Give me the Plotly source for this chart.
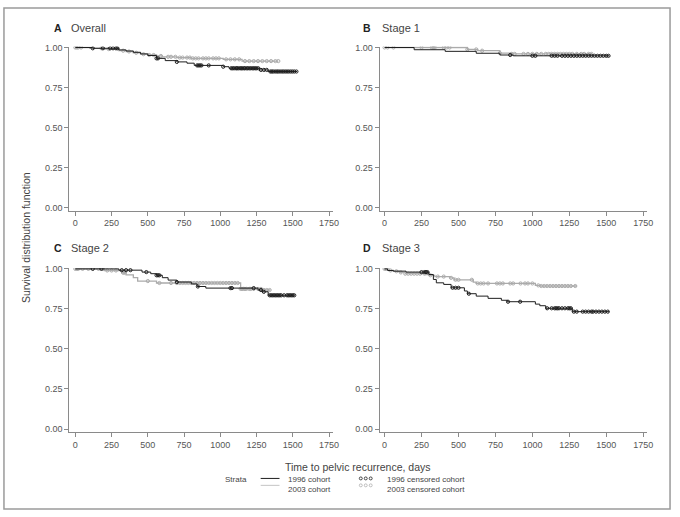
import plotly.graph_objects as go

W, H = 680, 517

# ---------------- data (Kaplan-Meier step curves) ----------------
# Panel A: Overall
A_1996_t = [0, 120, 300, 350, 400, 450, 500, 560, 620, 700, 770, 820, 1020, 1060, 1270, 1330]
A_1996_s = [1.0, 0.995, 0.985, 0.978, 0.97, 0.96, 0.95, 0.932, 0.918, 0.91, 0.902, 0.888, 0.88, 0.87, 0.86, 0.85]
A_1996_end = 1530
A_1996_c = [120, 190, 240, 260, 280, 290, 560, 570, 700, 840, 850, 860, 870, 920, 1020,
            1075, 1085, 1095, 1108, 1115, 1124, 1136, 1145, 1152, 1163, 1170, 1182, 1190, 1201,
            1210, 1222, 1230, 1241, 1250, 1262, 1280, 1300, 1320, 1345, 1355, 1365, 1378, 1390,
            1400, 1412, 1425, 1436, 1448, 1460, 1472, 1485, 1497, 1510, 1525]
A_2003_t = [0, 100, 200, 300, 350, 400, 450, 500, 560, 600, 700, 800, 1020, 1150]
A_2003_s = [1.0, 0.995, 0.99, 0.98, 0.975, 0.967, 0.958, 0.953, 0.947, 0.942, 0.937, 0.932, 0.926, 0.915]
A_2003_end = 1400
A_2003_c = [0, 10, 20, 40, 180, 230, 330, 370, 420, 470, 510, 540, 590, 640, 660, 690, 720,
            740, 770, 790, 810, 830, 850, 880, 900, 920, 950, 970, 990, 1040, 1070, 1100,
            1130, 1170, 1200, 1230, 1260, 1290, 1320, 1350, 1380, 1400]

# Panel B: Stage 1
B_1996_t = [0, 200, 410, 620, 780, 870]
B_1996_s = [1.0, 0.986, 0.976, 0.964, 0.953, 0.948]
B_1996_end = 1520
B_1996_c = [850, 1000, 1020, 1130, 1150, 1170, 1200, 1220, 1240, 1260, 1280, 1300, 1320,
            1340, 1360, 1380, 1400, 1420, 1440, 1460, 1480, 1500, 1515]
B_2003_t = [0, 560, 630, 780, 860]
B_2003_s = [1.0, 0.988, 0.98, 0.965, 0.96]
B_2003_end = 1400
B_2003_c = [0, 20, 60, 250, 320, 330, 340, 400, 420, 440, 560, 620, 660, 780, 860, 880, 940,
            970, 1000, 1030, 1060, 1090, 1110, 1130, 1150, 1170, 1190, 1210, 1230, 1250,
            1270, 1300, 1330, 1350, 1380, 1400]

# Panel C: Stage 2
C_1996_t = [0, 300, 460, 520, 560, 600, 640, 700, 800, 840, 900, 1260, 1290, 1330]
C_1996_s = [1.0, 0.992, 0.98, 0.97, 0.96, 0.945, 0.93, 0.918, 0.906, 0.89, 0.88, 0.868, 0.857, 0.835]
C_1996_end = 1510
C_1996_c = [120, 180, 320, 350, 380, 490, 560, 570, 580, 700, 845, 1070, 1080, 1230, 1280,
            1300, 1340, 1350, 1360, 1370, 1380, 1390, 1400, 1410, 1420, 1440, 1460, 1470,
            1480, 1490, 1500, 1510]
C_2003_t = [0, 200, 320, 350, 400, 430, 560, 1140, 1290]
C_2003_s = [1.0, 0.99, 0.976, 0.962, 0.945, 0.924, 0.912, 0.875, 0.868]
C_2003_end = 1345
C_2003_c = [0, 10, 20, 50, 90, 160, 190, 220, 250, 280, 330, 340, 500, 580, 660, 700, 720,
            740, 760, 780, 800, 820, 840, 860, 880, 900, 920, 940, 960, 980, 1000, 1020,
            1040, 1060, 1080, 1100, 1120, 1140, 1150, 1160, 1170, 1180, 1200, 1210, 1230,
            1260, 1280, 1300, 1320, 1340]

# Panel D: Stage 3
D_1996_t = [0, 20, 60, 145, 300, 330, 350, 400, 450, 540, 560, 620, 700, 790, 830, 1020, 1050, 1090, 1270]
D_1996_s = [1.0, 0.99, 0.986, 0.98, 0.965, 0.934, 0.913, 0.903, 0.882, 0.862, 0.845, 0.83,
            0.816, 0.804, 0.795, 0.78, 0.77, 0.754, 0.733]
D_1996_end = 1520
D_1996_c = [250, 270, 280, 290, 460, 480, 500, 570, 835, 917, 1100, 1130, 1150, 1160, 1170,
            1180, 1200, 1220, 1240, 1250, 1260, 1280, 1300, 1340, 1360, 1380, 1400, 1410,
            1430, 1450, 1470, 1490, 1510]
D_2003_t = [0, 30, 60, 100, 140, 280, 300, 340, 440, 470, 600, 620, 1020, 1050]
D_2003_s = [1.0, 0.99, 0.985, 0.978, 0.97, 0.965, 0.96, 0.952, 0.944, 0.932, 0.917, 0.909, 0.897, 0.893]
D_2003_end = 1300
D_2003_c = [0, 10, 40, 80, 110, 140, 160, 180, 200, 220, 240, 270, 310, 360, 400, 450, 480,
            500, 590, 630, 650, 670, 700, 760, 780, 800, 850, 870, 920, 950, 970, 1000,
            1040, 1060, 1080, 1100, 1120, 1140, 1160, 1180, 1200, 1220, 1240, 1260, 1290]

panel_letters = ["A", "B", "C", "D"]
panel_names = ["Overall", "Stage 1", "Stage 2", "Stage 3"]
x_ticks = [0, 250, 500, 750, 1000, 1250, 1500, 1750]
y_ticks = [0.0, 0.25, 0.5, 0.75, 1.0]
y_tick_text = ["0.00", "0.25", "0.50", "0.75", "1.00"]

BLACK = "#1e1e1e"
GRAY = "#ababab"
TXT = "#444444"
AX = "#8a8a8a"
FONT = "Liberation Sans, Arial, sans-serif"

panels = [
    (A_1996_t, A_1996_s, A_1996_end, A_1996_c, A_2003_t, A_2003_s, A_2003_end, A_2003_c),
    (B_1996_t, B_1996_s, B_1996_end, B_1996_c, B_2003_t, B_2003_s, B_2003_end, B_2003_c),
    (C_1996_t, C_1996_s, C_1996_end, C_1996_c, C_2003_t, C_2003_s, C_2003_end, C_2003_c),
    (D_1996_t, D_1996_s, D_1996_end, D_1996_c, D_2003_t, D_2003_s, D_2003_end, D_2003_c),
]

# pixel layout of each panel: x-domain px, y-domain px, px of t=0, px of t=1750
layout_px = [
    ((70, 336), (43, 209), 76, 332),
    ((383, 653), (43, 209), 388, 649),
    ((70, 336), (267, 433), 76, 332),
    ((383, 653), (267, 433), 388, 649),
]


def step_value(ts, ss, t):
    v = ss[0]
    for ti, si in zip(ts, ss):
        if ti <= t:
            v = si
    return v


fig = go.Figure()
layout_axes = {}
annotations = []
for i, (data, (xd, yd, x0px, x1px)) in enumerate(zip(panels, layout_px)):
    t96, s96, e96, c96, t03, s03, e03, c03 = data
    ax = "" if i == 0 else str(i + 1)
    xa, ya = "x" + ax, "y" + ax
    # gray (2003) first, then black (1996)
    for ts, ss, end, cs, col, lw in [(t03, s03, e03, c03, GRAY, 1.3), (t96, s96, e96, c96, BLACK, 1.0)]:
        fig.add_trace(go.Scatter(x=ts + [end], y=ss + [ss[-1]], mode="lines",
                                 line=dict(color=col, width=lw, shape="hv"),
                                 xaxis=xa, yaxis=ya, showlegend=False, hoverinfo="skip"))
        fig.add_trace(go.Scatter(x=cs, y=[step_value(ts, ss, c) for c in cs], mode="markers",
                                 marker=dict(symbol="circle-open", size=3.2, color=col,
                                             line=dict(width=1, color=col)),
                                 xaxis=xa, yaxis=ya, showlegend=False, hoverinfo="skip"))
    scale = (x1px - x0px) / 1750.0
    xr = [(xd[0] - x0px) / scale, 1750 + (xd[1] - x1px) / scale]
    # y: 1.00 at yd[0]+1, 0.00 at yd[1]-3
    ys = (yd[1] - 3) - (yd[0] + 1)
    yr = [-3.0 / ys, 1 + 1.0 / ys]
    common = dict(showline=True, linecolor=AX, linewidth=1, ticks="outside", ticklen=4,
                  tickcolor=AX, tickwidth=1, showgrid=False, zeroline=False,
                  tickfont=dict(family=FONT, size=9, color="#555555"))
    layout_axes["xaxis" + ax] = dict(domain=[xd[0] / W, xd[1] / W], range=xr, tickvals=x_ticks,
                                     anchor=ya, **common)
    layout_axes["yaxis" + ax] = dict(domain=[1 - yd[1] / H, 1 - yd[0] / H], range=yr,
                                     tickvals=y_ticks, ticktext=y_tick_text, anchor=xa, **common)
    # panel titles
    lx = 52 if i % 2 == 0 else 364
    nx = 70 if i % 2 == 0 else 383
    ty = 24 if i < 2 else 247
    annotations.append(dict(x=lx / W, y=1 - ty / H, xref="paper", yref="paper", text="<b>%s</b>" % panel_letters[i],
                            showarrow=False, xanchor="left", yanchor="middle",
                            font=dict(family=FONT, size=10.5, color="#222222")))
    annotations.append(dict(x=nx / W, y=1 - ty / H, xref="paper", yref="paper", text=panel_names[i],
                            showarrow=False, xanchor="left", yanchor="middle",
                            font=dict(family=FONT, size=11, color=TXT)))

# axis titles
annotations.append(dict(x=361 / W, y=1 - 468 / H, xref="paper", yref="paper",
                        text="Time to pelvic recurrence, days", showarrow=False,
                        xanchor="center", yanchor="middle", font=dict(family=FONT, size=10.5, color=TXT)))
annotations.append(dict(x=26 / W, y=1 - 236 / H, xref="paper", yref="paper",
                        text="Survival distribution function", showarrow=False, textangle=-90,
                        xanchor="center", yanchor="middle", font=dict(family=FONT, size=10.5, color=TXT)))

# legend
leg_font = dict(family=FONT, size=8, color=TXT)
annotations.append(dict(x=225 / W, y=1 - 481 / H, xref="paper", yref="paper", text="Strata",
                        showarrow=False, xanchor="left", yanchor="middle", font=leg_font))
legend_rows = [("1996 cohort", "1996 censored cohort", BLACK, 481),
               ("2003 cohort", "2003 censored cohort", "#c4c4c4", 491)]
shapes = []
for lab, clab, col, yy in legend_rows:
    annotations.append(dict(x=289 / W, y=1 - yy / H, xref="paper", yref="paper", text=lab,
                            showarrow=False, xanchor="left", yanchor="middle", font=leg_font))
    annotations.append(dict(x=388 / W, y=1 - yy / H, xref="paper", yref="paper", text=clab,
                            showarrow=False, xanchor="left", yanchor="middle", font=leg_font))
    ly = yy - 1 if yy < 485 else yy - 4
    shapes.append(dict(type="line", xref="paper", yref="paper", x0=263 / W, x1=282 / W,
                       y0=1 - ly / H, y1=1 - ly / H, line=dict(color=col, width=1)))
    for cx in (364, 369, 374):
        shapes.append(dict(type="circle", xref="paper", yref="paper",
                           x0=(cx - 1.5) / W, x1=(cx + 1.5) / W,
                           y0=1 - (ly + 1.5) / H, y1=1 - (ly - 1.5) / H,
                           line=dict(color=col if yy < 485 else "#b0b0b0", width=0.8)))

# outer frame
shapes.append(dict(type="rect", xref="paper", yref="paper", x0=4 / W, x1=676 / W,
                   y0=1 - 511 / H, y1=1 - 4 / H, line=dict(color="#9a9a9a", width=1.5)))

fig.update_layout(width=W, height=H, margin=dict(l=0, r=0, t=0, b=0),
                  paper_bgcolor="white", plot_bgcolor="white", showlegend=False,
                  annotations=annotations, shapes=shapes, **layout_axes)

fig.write_html("out.html", config={"displayModeBar": False},
               post_script="document.body.style.margin='0px';document.body.style.overflow='hidden';")
